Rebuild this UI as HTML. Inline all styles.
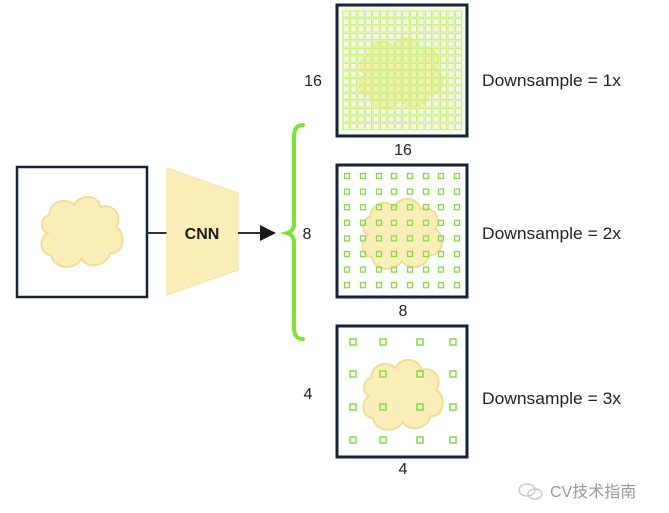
<!DOCTYPE html>
<html><head><meta charset="utf-8"><style>
html,body{margin:0;padding:0;background:#fff;}
svg{display:block;}
text{font-family:"Liberation Sans","Noto Sans CJK SC",sans-serif;}
</style></head><body>
<svg id="s" width="669" height="513" viewBox="0 0 669 513" xmlns="http://www.w3.org/2000/svg">
<defs>
<path id="cloud" d="M10,40 C2,38 2,24 12,22 C12,8 30,4 38,12 C44,0 64,2 66,14 C78,10 90,22 82,34 C94,40 90,62 76,60 C72,74 52,76 46,66 C38,78 16,76 14,62 C2,62 0,46 10,40 Z"/>
</defs>
<rect x="17" y="167" width="130" height="130" fill="#fff" stroke="#15223a" stroke-width="2.5"/>
<use href="#cloud" transform="translate(38,193) scale(0.95,1.0)" fill="#fbeeb8" stroke="#f1dc98" stroke-width="2"/>
<line x1="147" y1="233" x2="168" y2="233" stroke="#333" stroke-width="2"/>
<polygon points="167,168 238,193 238,270 167,295" fill="#fbeeb8" stroke="#f5e3a6" stroke-width="1"/>
<text x="202" y="239" font-size="16" font-weight="bold" text-anchor="middle" fill="#1a1a1a">CNN</text>
<line x1="238" y1="233" x2="262" y2="233" stroke="#333" stroke-width="2"/>
<polygon points="260,225 276,233 260,241" fill="#1a1a1a"/>
<path d="M303,125 Q294,125 294,137 L294,224 Q294,231 287,233 Q294,235 294,242 L294,328 Q294,339 303,339" fill="none" stroke="#7ee23a" stroke-width="4" stroke-linecap="round"/>
<text x="313" y="86" font-size="16" text-anchor="middle" fill="#222">16</text>
<text x="307" y="239" font-size="16" text-anchor="middle" fill="#222">8</text>
<text x="308" y="399" font-size="16" text-anchor="middle" fill="#222">4</text>
<text x="482" y="86" font-size="17" fill="#222" textLength="139" lengthAdjust="spacingAndGlyphs">Downsample = 1x</text>
<text x="482" y="239" font-size="17" fill="#222" textLength="139" lengthAdjust="spacingAndGlyphs">Downsample = 2x</text>
<text x="482" y="404" font-size="17" fill="#222" textLength="139" lengthAdjust="spacingAndGlyphs">Downsample = 3x</text>
<text x="403" y="155" font-size="16" text-anchor="middle" fill="#222">16</text>
<text x="403" y="316" font-size="16" text-anchor="middle" fill="#222">8</text>
<text x="403" y="474" font-size="16" text-anchor="middle" fill="#222">4</text>
<rect x="337" y="5" width="130" height="131" fill="#f3fbe2" stroke="#15223a" stroke-width="3"/>
<use href="#cloud" transform="translate(356,34) scale(0.97,1.0)" fill="#eef59a" stroke="#e6ef80" stroke-width="1.5" opacity="0.85"/>
<g id="g16"></g>
<rect x="337" y="165" width="130" height="132" fill="#fff" stroke="#15223a" stroke-width="3"/>
<use href="#cloud" transform="translate(359,195) scale(0.93,1.0)" fill="#fbeeb8" stroke="#f1dc98" stroke-width="2"/>
<g id="g8"></g>
<rect x="337" y="326" width="130" height="131" fill="#fff" stroke="#15223a" stroke-width="3"/>
<use href="#cloud" transform="translate(360,356) scale(0.93,1.0)" fill="#fbeeb8" stroke="#f1dc98" stroke-width="2"/>
<g id="g4"></g>
<g opacity="0.5" fill="none" stroke="#999" stroke-width="1.5">
<ellipse cx="527" cy="490" rx="8" ry="6"/><ellipse cx="535" cy="494" rx="7" ry="5"/>
</g>
<text x="550" y="497" font-size="16" fill="#999">CV技术指南</text>
</svg>
<script>
var ns="http://www.w3.org/2000/svg";
function sq(g,x,y,s,c,w){var r=document.createElementNS(ns,"rect");r.setAttribute("x",x);r.setAttribute("y",y);r.setAttribute("width",s);r.setAttribute("height",s);r.setAttribute("fill","none");r.setAttribute("stroke",c);r.setAttribute("stroke-width",w);g.appendChild(r);}
var g=document.getElementById("g16");
for(var i=0;i<16;i++)for(var j=0;j<16;j++)sq(g,343+i*7.5,11+j*7.5,6,"#cdea8a",1);
g=document.getElementById("g8");
var xs=[347,363,379,394,410,426,441,457];
for(var i=0;i<8;i++)for(var j=0;j<8;j++)sq(g,xs[i]-2.5,176+j*15.6-2.5,5,"#86d84a",1.3);
g=document.getElementById("g4");
var x4=[353,383,420,453],y4=[342,374,407,440];
for(var i=0;i<4;i++)for(var j=0;j<4;j++)sq(g,x4[i]-3,y4[j]-3,6,"#86d84a",1.5);
</script>
</body></html>
